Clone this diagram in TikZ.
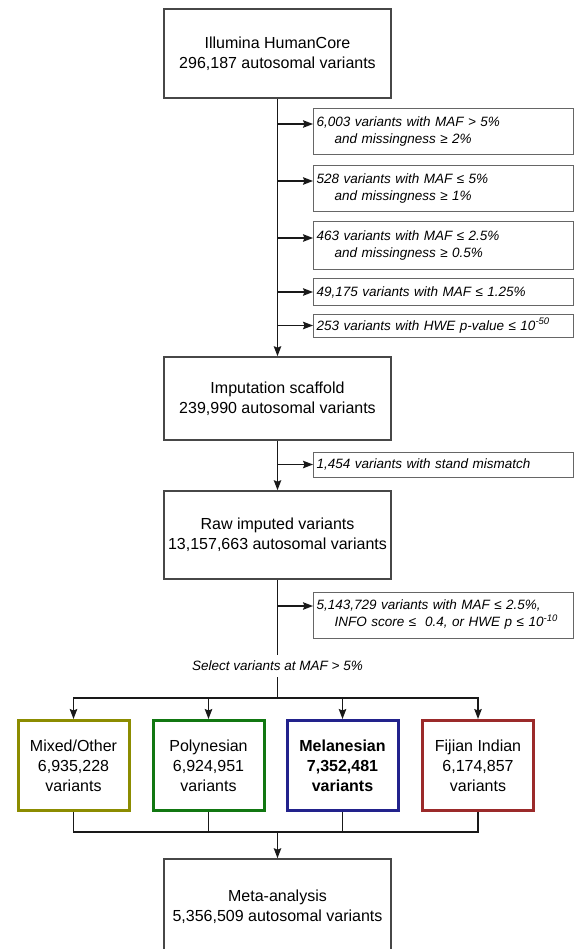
\documentclass[tikz,border=0pt]{standalone}
\usepackage{fontspec}
\setmainfont{Liberation Sans}
\usetikzlibrary{arrows.meta,positioning}

\definecolor{mixcol}{HTML}{8C8C00}
\definecolor{polycol}{HTML}{117711}
\definecolor{melacol}{HTML}{22228C}
\definecolor{fijicol}{HTML}{9B2A2A}

\tikzset{
    stage/.style={draw=black!72, line width=1.6pt, minimum width=227pt, align=center,
        font=\fontsize{16}{20}\selectfont},
    filtbox/.style={draw=black!60, line width=1pt, anchor=west, text width=254pt,
        inner xsep=3pt, inner ysep=2pt, align=left, font=\fontsize{13.5}{17}\selectfont\itshape},
    popbox/.style={line width=3pt, minimum width=111pt, minimum height=90pt, align=center,
        font=\fontsize{16}{20}\selectfont},
    conn/.style={line width=1.4pt, black!90},
    arr/.style={conn, -{Stealth[length=10pt,width=7.5pt,inset=1.5pt]}},
}

\begin{document}
\begin{tikzpicture}[x=1pt, y=-1pt]
    \useasboundingbox (0,0) rectangle (574,949);

    % Main stages down the middle
    \node[stage, minimum height=89pt] (illumina) at (277.5,53.5) {Illumina HumanCore\\296,187 autosomal variants};
    \node[stage, minimum height=83pt] (scaffold) at (277.5,398.5) {Imputation scaffold\\239,990 autosomal variants};
    \node[stage, minimum height=88pt] (rawimp) at (277.5,535) {Raw imputed variants\\13,157,663 autosomal variants};
    \node[stage, minimum height=96pt] (meta) at (277.5,907) {Meta-analysis\\5,356,509 autosomal variants};

    % Excluded variants (right side)
    \node[filtbox, minimum height=46pt] (miss2) at (313,132) {6,003 variants with MAF > 5\%\\\hspace*{18pt}and missingness ≥ 2\%};
    \node[filtbox, minimum height=46pt] (miss1) at (313,189) {528 variants with MAF ≤ 5\%\\\hspace*{18pt}and missingness ≥ 1\%};
    \node[filtbox, minimum height=48pt] (misshalf) at (313,246) {463 variants with MAF ≤ 2.5\%\\\hspace*{18pt}and missingness ≥ 0.5\%};
    \node[filtbox, minimum height=26pt] (rare) at (313,292) {49,175 variants with MAF ≤ 1.25\%};
    \node[filtbox, minimum height=23pt] (hwe) at (313,325.5) {253 variants with HWE p-value ≤ 10\textsuperscript{-50}};
    \node[filtbox, minimum height=25pt] (strand) at (313,464.5) {1,454 variants with stand mismatch};
    \node[filtbox, minimum height=46pt] (qc) at (313,615) {5,143,729 variants with MAF ≤ 2.5\%,\\\hspace*{18pt}INFO score ≤~ 0.4, or HWE p ≤ 10\textsuperscript{-10}};

    % Arrow points on the boxes (first text line for two-line boxes)
    \coordinate (t1) at ([yshift=8pt]miss2.west);
    \coordinate (t2) at ([yshift=8pt]miss1.west);
    \coordinate (t3) at ([yshift=8pt]misshalf.west);
    \coordinate (t4) at (rare.west);
    \coordinate (t5) at (hwe.west);
    \coordinate (t6) at (strand.west);
    \coordinate (t7) at ([yshift=9pt]qc.west);

    % Spine and side arrows
    \draw[arr] (illumina) -- (scaffold);
    \foreach \t in {t1,t2,t3,t4,t5}
        \draw[arr] (\t -| illumina.south) -- (\t);
    \draw[arr] (scaffold) -- (rawimp);
    \draw[arr] (t6 -| scaffold.south) -- (t6);
    \draw[arr] (t7 -| rawimp.south) -- (t7);

    % Split by population
    \node[font=\fontsize{13.5}{17}\selectfont\itshape, inner ysep=6pt] (select) at (277.5,666) {Select variants at MAF > 5\%};
    \coordinate (split) at (277.5,698);
    \draw[conn] (rawimp) -- (select);
    \draw[conn] (select) -- (split);

    \node[popbox, draw=mixcol] (mixed) at (73.5,765.5) {Mixed/Other\\6,935,228\\variants};
    \node[popbox, draw=polycol] (poly) at (208.5,765.5) {Polynesian\\6,924,951\\variants};
    \node[popbox, draw=melacol, font=\fontsize{16}{20}\selectfont\bfseries] (mela) at (342.5,765.5) {Melanesian\\7,352,481\\variants};
    \node[popbox, draw=fijicol] (fiji) at (478,765.5) {Fijian Indian\\6,174,857\\variants};

    \foreach \p in {mixed,poly,mela,fiji}
        \draw[arr] (split) -| (\p.north);

    % Merge into meta-analysis
    \coordinate (merge) at (277.5,832);
    \foreach \p in {mixed,poly,mela,fiji}
        \draw[conn] (\p.south) |- (merge);
    \draw[arr] (merge) -- (meta);
\end{tikzpicture}
\end{document}
